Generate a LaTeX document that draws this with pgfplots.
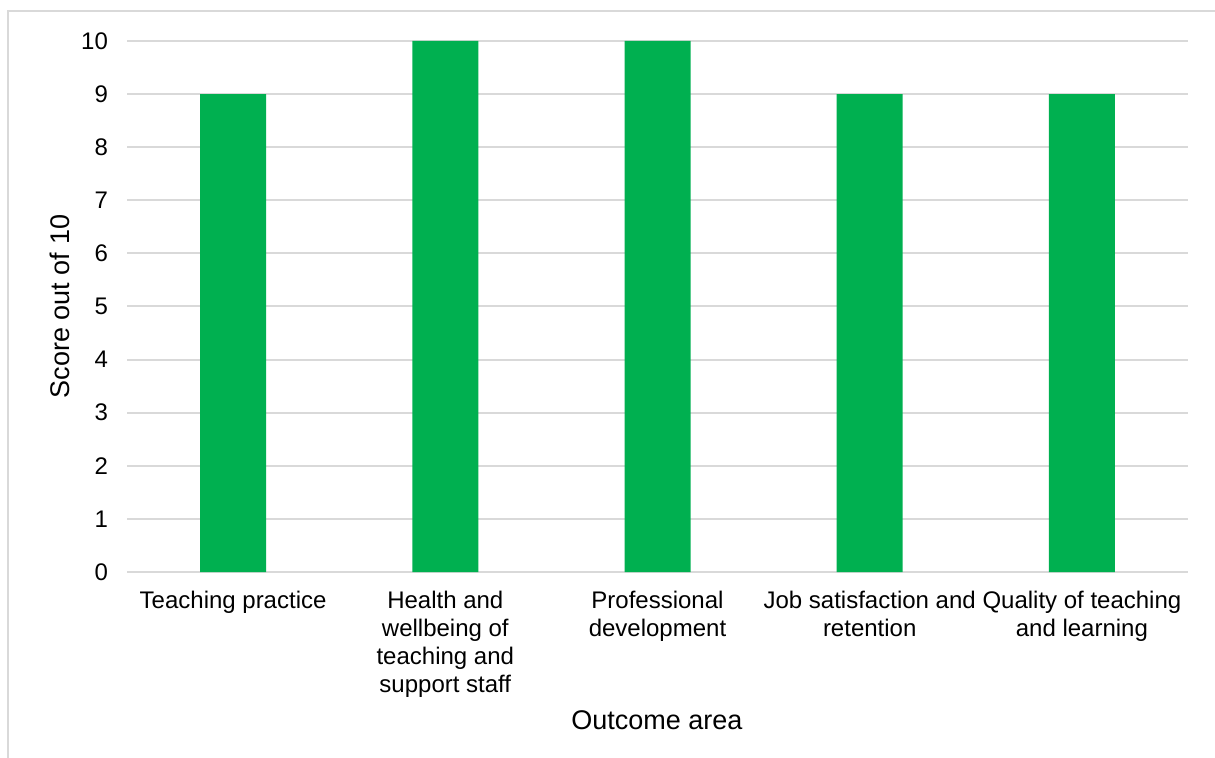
\documentclass[border=0pt]{standalone}
\usepackage{fontspec}
\setmainfont{Liberation Sans}
\usepackage{pgfplots}
\pgfplotsset{compat=1.18}
\definecolor{bargreen}{HTML}{00B050}
\definecolor{gridgray}{HTML}{D9D9D9}
\begin{document}
\begin{tikzpicture}
  \useasboundingbox (0,0) rectangle (607.5pt,-379pt);
  \draw[gridgray, line width=1pt] (4pt,-390pt) -- (4pt,-5.5pt) -- (620pt,-5.5pt);
  \begin{axis}[
      at={(63.5pt,-286pt)}, anchor=south west,
      scale only axis,
      width=530.5pt, height=265.5pt,
      ybar, bar width=33pt,
      xmin=-0.5, xmax=4.5,
      ymin=0, ymax=10,
      ytick={0,1,...,10},
      xtick=data,
      xticklabels={Teaching practice,
        Health and\\wellbeing of\\teaching and\\support staff,
        Professional\\development,
        Job satisfaction and\\retention,
        Quality of teaching\\and learning},
      x tick label style={align=center, font=\fontsize{12}{14}\selectfont, yshift=-6pt},
      y tick label style={font=\fontsize{12}{13}\selectfont, xshift=-6pt},
      /pgf/number format/assume math mode=true,
      axis line style={draw=none},
      major tick length=0pt,
      ymajorgrids, grid style={gridgray, line width=1pt},
      xlabel={Outcome area},
      ylabel={Score out of 10},
      label style={font=\fontsize{13.5}{15}\selectfont},
      xlabel style={at={(axis description cs:0.4995,-0.279)}, anchor=center},
      ylabel style={at={(axis description cs:-0.063,0.5)}, anchor=center},
    ]
    \addplot[fill=bargreen, draw=none] coordinates {
      (0,9) (1,10) (2,10) (3,9) (4,9)
    };
  \end{axis}
\end{tikzpicture}
\end{document}
